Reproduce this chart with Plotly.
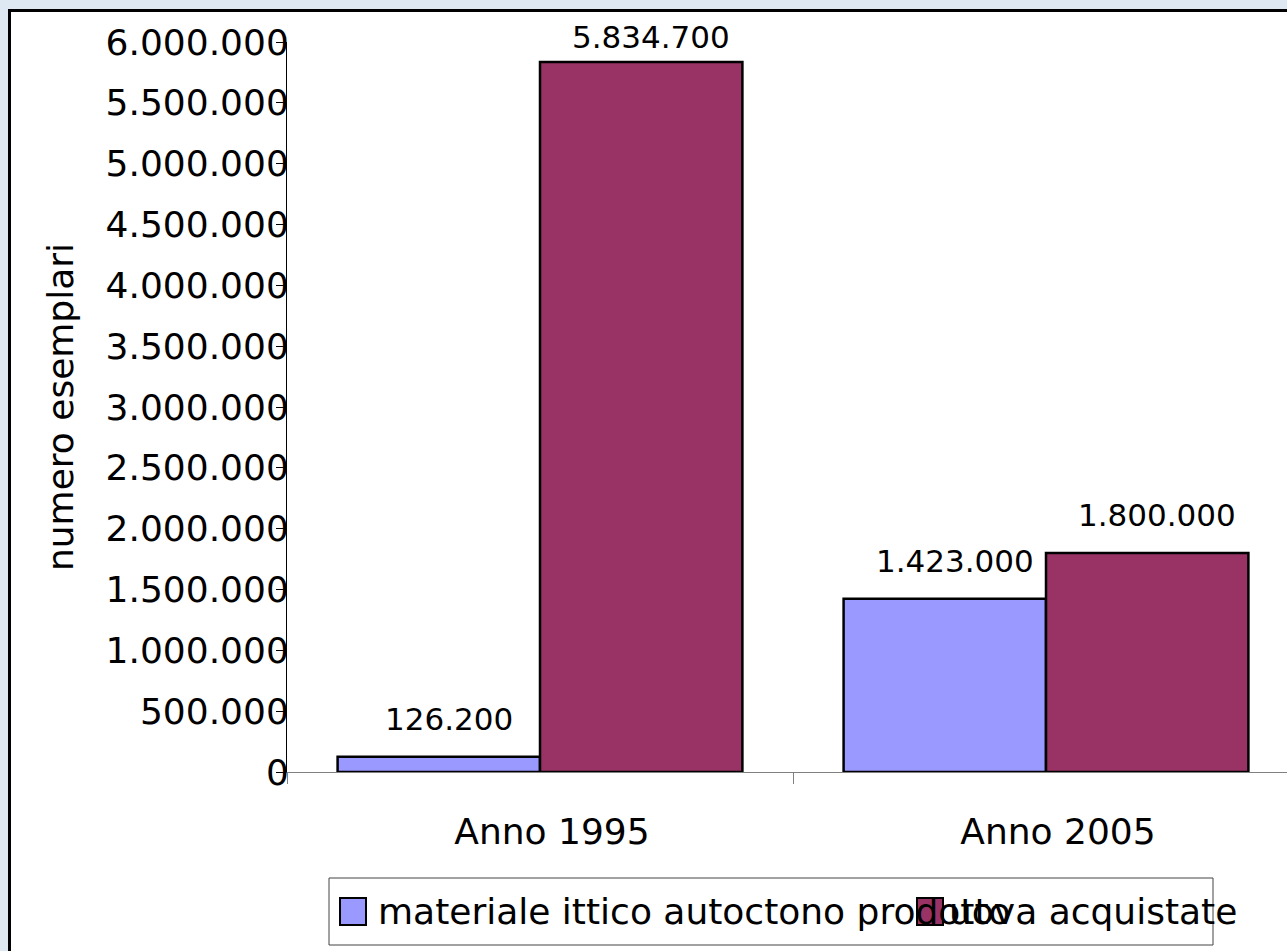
import plotly.graph_objects as go

categories = ["Anno 1995", "Anno 2005"]
series_names = ["materiale ittico autoctono prodotto", "uova acquistate"]
materiale = [126200, 1423000]
uova = [5834700, 1800000]
series_values = [materiale, uova]
series_colors = ["#9999FF", "#993366"]
y_ticks = [0, 500000, 1000000, 1500000, 2000000, 2500000, 3000000,
           3500000, 4000000, 4500000, 5000000, 5500000, 6000000]

W, H = 1287, 951
L, R, T, B = 287, 0, 42, 179
PW, PH = W - L - R, H - T - B
CAT_PX = 506.0
YMAX = 6000000
FONT = "DejaVu Sans"

def fmt(v):
    return f"{v:,}".replace(",", ".")

def px2paper_x(px):
    return (px - L) / PW

def px2paper_y(py):
    return (T + PH - py) / PH

fig = go.Figure()
for name, vals, col in zip(series_names, series_values, series_colors):
    fig.add_trace(go.Bar(
        x=categories, y=vals, name=name,
        marker=dict(color=col, line=dict(color="black", width=2.5)),
        showlegend=False,
    ))

# data labels
annotations = []
n = len(series_values)
bar_w = 0.8 / n
for si, vals in enumerate(series_values):
    offset = -0.4 + bar_w * (si + 0.5)
    for ci, v in enumerate(vals):
        top_px = T + PH - v / YMAX * PH
        center = max(top_px - 38, 37)
        annotations.append(dict(
            x=categories[ci], y=v, xref="x", yref="y",
            text=fmt(v), showarrow=False,
            xshift=offset * CAT_PX + 10, yshift=top_px - center,
            yanchor="middle", xanchor="center",
            font=dict(family=FONT, size=31, color="black"),
        ))

# legend (manual)
shapes = []
# chart frame
shapes.append(dict(type="rect", xref="paper", yref="paper", layer="below",
                   x0=px2paper_x(9.5), x1=px2paper_x(1310),
                   y0=px2paper_y(970), y1=px2paper_y(10.5),
                   fillcolor="white", line=dict(color="black", width=3)))
shapes.append(dict(type="rect", xref="paper", yref="paper",
                   x0=px2paper_x(329), x1=px2paper_x(1213),
                   y0=px2paper_y(945), y1=px2paper_y(878),
                   fillcolor="rgba(0,0,0,0)", line=dict(color="#444444", width=1)))
legend_pos = [(340, 376), (917, 947)]
for (sx, tx), name, col in zip(legend_pos, series_names, series_colors):
    shapes.append(dict(type="rect", xref="paper", yref="paper",
                       x0=px2paper_x(sx), x1=px2paper_x(sx + 26),
                       y0=px2paper_y(925), y1=px2paper_y(898),
                       fillcolor=col, line=dict(color="black", width=2)))
    annotations.append(dict(
        x=px2paper_x(tx), y=px2paper_y(911), xref="paper", yref="paper",
        text=name, showarrow=False, xanchor="left", yanchor="middle",
        font=dict(family=FONT, size=36, color="black"),
    ))

fig.update_layout(
    width=W, height=H,
    margin=dict(l=L, r=R, t=T, b=B, pad=0),
    paper_bgcolor="#dde8f3",
    plot_bgcolor="white",
    separators=",.",
    barmode="group", bargap=0.2, bargroupgap=0,
    showlegend=False,
    font=dict(family=FONT, color="black"),
    shapes=shapes,
    annotations=annotations,
    xaxis=dict(
        type="category", range=[-0.5, -0.5 + PW / CAT_PX],
        showline=True, linecolor="#808080", linewidth=1,
        ticks="outside", ticklen=11, tickcolor="#808080", tickson="boundaries",
        showgrid=False, zeroline=False,
        tickfont=dict(family=FONT, size=36, color="black"),
        ticklabelshift=12, ticklabelstandoff=28,
    ),
    yaxis=dict(
        range=[0, YMAX], tickvals=y_ticks, tickformat=",d",
        showline=True, linecolor="black", linewidth=1,
        ticks="outside", ticklen=10, tickcolor="black",
        showgrid=False, zeroline=False,
        tickfont=dict(family=FONT, size=36, color="black"),
        ticklabelstandoff=-20,
        title=dict(text="numero esemplari", font=dict(family=FONT, size=36, color="black"),
                   standoff=20),
        automargin=False,
    ),
)

fig.write_html("out.html")
